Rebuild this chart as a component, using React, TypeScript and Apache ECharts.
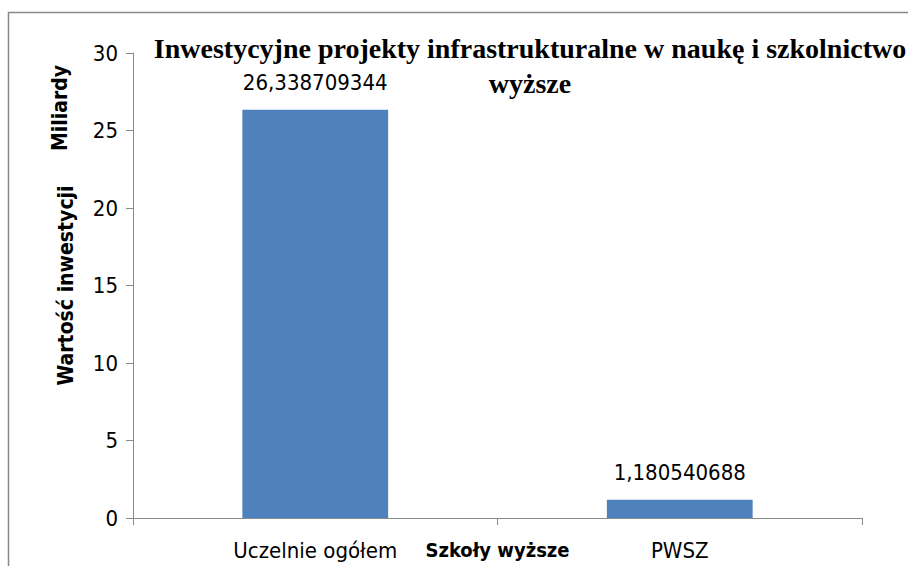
import React, { useEffect, useRef } from "react";
import * as echarts from "echarts";

const categories = ["Uczelnie ogółem", "PWSZ"];
const values = [26.338709344, 1.180540688];
const yTicks = { min: 0, max: 30, interval: 5 };
const titleText = "Inwestycyjne projekty infrastrukturalne w naukę i szkolnictwo\nwyższe";
const xName = "Szkoły wyższe";
const yName = "Wartość inwestycji";
const unitName = "Miliardy";

const sans = "'DejaVu Sans Condensed', 'Liberation Sans', sans-serif";

export default function App() {
  const ref = useRef<HTMLDivElement>(null);
  useEffect(() => {
    if (!ref.current) return;
    const chart = echarts.init(ref.current, null, { renderer: "svg" });
    chart.setOption({
      animation: false,
      backgroundColor: "#ffffff",
      title: {
        text: titleText,
        left: 525,
        textAlign: "center",
        top: 26,
        textStyle: {
          fontFamily: "'Liberation Serif', 'DejaVu Serif', serif",
          fontWeight: "bold",
          fontSize: 28,
          lineHeight: 35,
          color: "#000",
        },
      },
      graphic: [
        {
          type: "rect",
          shape: { x: 8.5, y: 12.5, width: 920, height: 600 },
          style: { fill: "none", stroke: "#898989", lineWidth: 1.5 },
          silent: true,
          z: -1,
        },
        {
          type: "text",
          x: 60,
          y: 108,
          rotation: Math.PI / 2,
          style: {
            text: unitName,
            fontFamily: sans,
            fontWeight: "bold",
            fontSize: 21,
            fill: "#000",
            align: "center",
            verticalAlign: "middle",
          },
        },
      ],
      grid: { left: 133, top: 53, right: 46, bottom: 48, containLabel: false, outerBoundsMode: "none" },
      xAxis: {
        type: "category",
        data: categories,
        name: xName,
        nameLocation: "middle",
        nameGap: 22,
        nameMoveOverlap: false,
        nameTextStyle: { fontFamily: sans, fontWeight: "bold", fontSize: 20, color: "#000" },
        axisLine: { lineStyle: { color: "#898989", width: 1 } },
        axisTick: { show: true, length: 7, alignWithLabel: false, lineStyle: { color: "#898989" } },
        axisLabel: { margin: 21, fontFamily: sans, fontSize: 22, color: "#000" },
      },
      yAxis: {
        type: "value",
        min: yTicks.min,
        max: yTicks.max,
        interval: yTicks.interval,
        name: yName,
        nameLocation: "middle",
        nameGap: 57,
        nameMoveOverlap: false,
        nameTextStyle: { fontFamily: sans, fontWeight: "bold", fontSize: 21, color: "#000" },
        axisLine: { show: true, lineStyle: { color: "#898989", width: 1 } },
        axisTick: { show: true, length: 7, lineStyle: { color: "#898989" } },
        axisLabel: { margin: 15, fontFamily: sans, fontSize: 22, color: "#000" },
        splitLine: { show: false },
      },
      series: [
        {
          type: "bar",
          data: values,
          barWidth: "40%",
          itemStyle: { color: "#4F81BD" },
          label: {
            show: true,
            position: "top",
            distance: 16,
            fontFamily: sans,
            fontSize: 22,
            color: "#000",
            formatter: (p: any) => String(p.value).replace(".", ","),
          },
        },
      ],
    });
    return () => chart.dispose();
  }, []);
  return (
    <div
      ref={ref}
      style={{ position: "fixed", left: 0, top: 0, width: 908, height: 566 }}
    />
  );
}
